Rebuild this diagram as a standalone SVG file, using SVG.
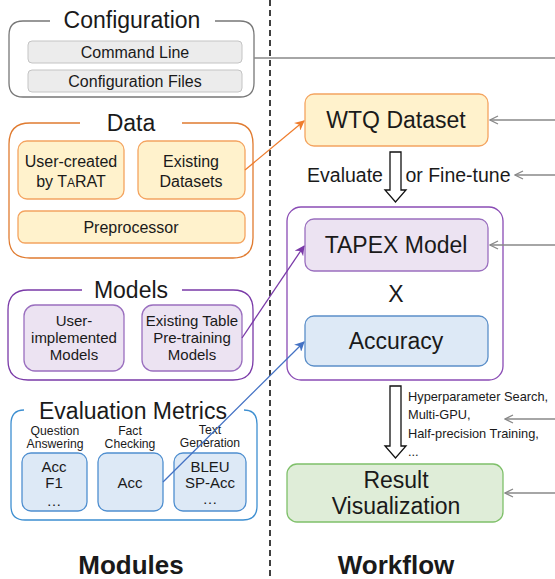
<svg xmlns="http://www.w3.org/2000/svg" width="555" height="579" viewBox="0 0 555 579">
<style>
text{font-family:"Liberation Sans",Arial,sans-serif;fill:#1a1a1a;text-anchor:middle}
.t21{font-size:23px}
.t15{font-size:16px}
.t14{font-size:15px}
.t13{font-size:19.5px}
.t12{font-size:12.8px}
.t11{font-size:12.2px}
.bold{font-size:26px;font-weight:bold}
.gray{fill:#ececec;stroke:#c4c4c4;stroke-width:1}
.org{fill:#fff2cc;stroke:#f4a460;stroke-width:1.3}
.pur{fill:#ece3f2;stroke:#9a6fbf;stroke-width:1.3}
.blu{fill:#dde9f6;stroke:#4f8fd0;stroke-width:1.3}
.grn{fill:#dfedd8;stroke:#7fc06a;stroke-width:1.3}
.in{stroke:#888;stroke-width:1.3;fill:none}
</style>
<defs>
<marker id="open" viewBox="0 0 10 10" refX="9" refY="5" markerWidth="10" markerHeight="10" markerUnits="userSpaceOnUse" orient="auto"><path d="M1,1 L9,5 L1,9" fill="none" stroke="#888" stroke-width="1.3"/></marker>
<marker id="aOrg" viewBox="0 0 10 10" refX="9" refY="5" markerWidth="10" markerHeight="10" markerUnits="userSpaceOnUse" orient="auto"><path d="M0,0 L10,5 L0,10 L3,5 Z" fill="#ef7d2d"/></marker>
<marker id="aPur" viewBox="0 0 10 10" refX="9" refY="5" markerWidth="10" markerHeight="10" markerUnits="userSpaceOnUse" orient="auto"><path d="M0,0 L10,5 L0,10 L3,5 Z" fill="#7a3aa8"/></marker>
<marker id="aBlu" viewBox="0 0 10 10" refX="9" refY="5" markerWidth="10" markerHeight="10" markerUnits="userSpaceOnUse" orient="auto"><path d="M0,0 L10,5 L0,10 L3,5 Z" fill="#4472c4"/></marker>
</defs>
<rect width="555" height="579" fill="#fff"/>
<line x1="270" y1="0" x2="270" y2="579" stroke="#111" stroke-width="1.6" stroke-dasharray="6,4"/>

<g id="configuration">
<path d="M50,21 H23 Q9,21 9,35 V83 Q9,97 23,97 H240 Q254,97 254,83 V35 Q254,21 240,21 H215" fill="none" stroke="#777" stroke-width="1.3"/>
<text class="t21" x="132" y="28">Configuration</text>
<rect class="gray" x="28" y="41" width="214" height="22" rx="4"/>
<text class="t15" x="135" y="58">Command Line</text>
<rect class="gray" x="28" y="70" width="214" height="22" rx="4"/>
<text class="t15" x="135" y="87">Configuration Files</text>
</g>

<g id="data">
<path d="M80,123 H30 Q9,123 9,144 V238 Q9,258 30,258 H233 Q253,258 253,238 V144 Q253,123 233,123 H182" fill="none" stroke="#e07b30" stroke-width="1.3"/>
<text class="t21" x="131" y="131">Data</text>
<rect class="org" x="18" y="141" width="106" height="58" rx="9"/>
<text class="t15" x="71" y="167">User-created</text>
<text class="t15" x="71" y="187">by T<tspan font-size="12px">A</tspan>RAT</text>
<rect class="org" x="138" y="141" width="107" height="58" rx="9"/>
<text class="t15" x="191" y="167">Existing</text>
<text class="t15" x="191" y="187">Datasets</text>
<rect class="org" x="18" y="211" width="227" height="32" rx="7"/>
<text class="t15" x="131" y="233">Preprocessor</text>
</g>

<g id="models">
<path d="M82,290 H28 Q8,290 8,310 V360 Q8,380 28,380 H233 Q253,380 253,360 V310 Q253,290 233,290 H182" fill="none" stroke="#7a3aa8" stroke-width="1.3"/>
<text class="t21" x="131" y="298">Models</text>
<rect class="pur" x="24" y="305" width="100" height="66" rx="11"/>
<text class="t14" x="74" y="326">User-</text>
<text class="t14" x="74" y="343">implemented</text>
<text class="t14" x="74" y="360">Models</text>
<rect class="pur" x="142" y="305" width="100" height="66" rx="11"/>
<text class="t14" x="192" y="326">Existing Table</text>
<text class="t14" x="192" y="343">Pre-training</text>
<text class="t14" x="192" y="360">Models</text>
</g>

<g id="evaluation-metrics">
<path d="M24,410 Q11,410 11,424 V506 Q11,520 25,520 H243 Q257,520 257,506 V424 Q257,410 244,410" fill="none" stroke="#3d8fd1" stroke-width="1.3"/>
<text class="t21" x="133" y="419">Evaluation Metrics</text>
<text class="t11" x="55" y="435">Question</text>
<text class="t11" x="55" y="447.5">Answering</text>
<text class="t11" x="130" y="435">Fact</text>
<text class="t11" x="130" y="447.5">Checking</text>
<text class="t11" x="210" y="434">Text</text>
<text class="t11" x="210" y="446.5">Generation</text>
<rect class="blu" x="22" y="453" width="65" height="58" rx="9"/>
<text class="t14" x="54" y="472">Acc</text>
<text class="t14" x="54" y="488">F1</text>
<text class="t14" x="54" y="506">…</text>
<rect class="blu" x="98" y="453" width="65" height="58" rx="9"/>
<text class="t14" x="130" y="488">Acc</text>
<rect class="blu" x="174" y="453" width="72" height="58" rx="9"/>
<text class="t14" x="210" y="472">BLEU</text>
<text class="t14" x="210" y="488">SP-Acc</text>
<text class="t14" x="210" y="504">…</text>
</g>

<text class="bold" x="131" y="574">Modules</text>
<text class="bold" x="396" y="574">Workflow</text>

<g id="wtq-dataset">
<rect class="org" x="305" y="94" width="183" height="52" rx="9"/>
<text class="t21" x="396" y="128">WTQ Dataset</text>
</g>

<g id="evaluate-label">
<text class="t13" x="345" y="182">Evaluate</text>
<text class="t13" x="458" y="182">or Fine-tune</text>
</g>

<g id="tapex-group">
<rect x="287" y="207" width="216" height="173" rx="14" fill="none" stroke="#8a4cb5" stroke-width="1.3"/>
<g id="tapex-model">
<rect class="pur" x="305" y="219" width="183" height="52" rx="9"/>
<text class="t21" x="396" y="253">TAPEX Model</text>
</g>
<text class="t21" x="396" y="302">X</text>
<g id="accuracy">
<rect class="blu" x="305" y="316" width="183" height="50" rx="9" style="stroke:#5b8fc9"/>
<text class="t21" x="396" y="349">Accuracy</text>
</g>
</g>

<g id="options-label">
<text class="t12" x="408" y="401" style="text-anchor:start">Hyperparameter Search,</text>
<text class="t12" x="408" y="419" style="text-anchor:start">Multi-GPU,</text>
<text class="t12" x="408" y="438" style="text-anchor:start">Half-precision Training,</text>
<text class="t12" x="408" y="456" style="text-anchor:start">...</text>
</g>

<g id="result-visualization">
<rect class="grn" x="287" y="464" width="216" height="58" rx="10"/>
<text class="t21" x="396" y="488">Result</text>
<text class="t21" x="396" y="514">Visualization</text>
</g>

<g id="connectors">
<line x1="254" y1="58" x2="555" y2="58" stroke="#888" stroke-width="1.3"/>
<line class="in" x1="555" y1="120" x2="490" y2="120" marker-end="url(#open)"/>
<line class="in" x1="555" y1="175" x2="515" y2="175" marker-end="url(#open)"/>
<line class="in" x1="555" y1="245" x2="490" y2="245" marker-end="url(#open)"/>
<line class="in" x1="555" y1="419" x2="505" y2="419" marker-end="url(#open)"/>
<line class="in" x1="555" y1="493" x2="505" y2="493" marker-end="url(#open)"/>
<path d="M390,152 H401 V190 H406 L395.5,202 L385,190 H390 Z" fill="#fff" stroke="#111" stroke-width="1.3"/>
<path d="M390,386 H401 V446 H406 L395.5,458 L385,446 H390 Z" fill="#fff" stroke="#111" stroke-width="1.3"/>
<line x1="245" y1="170" x2="304" y2="121" stroke="#ef7d2d" stroke-width="1.3" marker-end="url(#aOrg)"/>
<line x1="242" y1="338" x2="304" y2="246" stroke="#7a3aa8" stroke-width="1.3" marker-end="url(#aPur)"/>
<line x1="163" y1="482" x2="304" y2="342" stroke="#4472c4" stroke-width="1.3" marker-end="url(#aBlu)"/>
</g>
</svg>
